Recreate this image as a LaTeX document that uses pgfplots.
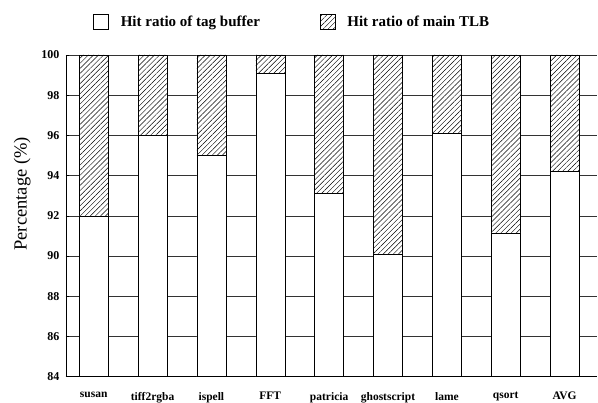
\documentclass[border=0pt]{standalone}
\usepackage{pgfplots}
\pgfplotsset{compat=1.18}
\usetikzlibrary{patterns,patterns.meta}
\usepackage{fontspec}
\setmainfont{Liberation Serif}
\begin{document}
\begin{tikzpicture}
\begin{axis}[
  scale only axis,
  width=531pt, height=321.6pt,
  ybar stacked,
  bar width=29pt,
  xmin=-0.47, xmax=8.55,
  ymin=84, ymax=100,
  ytick={84,86,...,100},
  xtick={0,...,8},
  xticklabels={susan,tiff2rgba,ispell,FFT,patricia,ghostscript,lame,qsort,AVG},
  x tick label style={font=\bfseries\fontsize{11.5}{13}\selectfont, yshift=-12pt},
  y tick label style={font=\bfseries\fontsize{12}{14}\selectfont, xshift=-3pt},
  /pgf/number format/assume math mode=true,
  ylabel={Percentage (\%)},
  ylabel style={font=\fontsize{18.5}{20}\selectfont, yshift=4pt, xshift=22pt},
  ymajorgrids,
  major grid style={black!80, line width=0.5pt},
  axis x line*=bottom,
  axis y line*=left,
  axis line style={-, line width=0.6pt},
  x tick style={draw=none},
  y tick style={black, line width=0.5pt},
  major tick length=3pt,
  legend style={at={(0.051,1.0)}, anchor=north west, yshift=43pt, xshift=-3pt,
    draw=none, fill=none,
    font=\bfseries\fontsize{15}{17}\selectfont, legend columns=2,
    /tikz/every odd column/.append style={column sep=10pt},
    /tikz/every even column/.append style={column sep=58pt}},
  legend image code/.code={\draw[#1, bar width=0pt] (0pt,-7pt) rectangle (15pt,8pt);},
]
\addplot+[fill=white, draw=black, line width=0.5pt] coordinates {
  (0,92.0) (1,96.0) (2,95.0) (3,99.1) (4,93.1) (5,90.1) (6,96.1) (7,91.15) (8,94.2)};
\addlegendentry{Hit ratio of tag buffer}
\addplot+[fill=white, postaction={pattern={Lines[angle=45, distance=3.6pt, line width=0.45pt]}}, draw=black, line width=0.5pt] coordinates {
  (0,8.0) (1,4.0) (2,5.0) (3,0.9) (4,6.9) (5,9.9) (6,3.9) (7,8.85) (8,5.8)};
\addlegendentry{Hit ratio of main TLB}
\end{axis}
\pgfresetboundingbox
\path[use as bounding box] (-66pt,-26.4pt) rectangle (532pt,376.6pt);
\end{tikzpicture}
\end{document}
